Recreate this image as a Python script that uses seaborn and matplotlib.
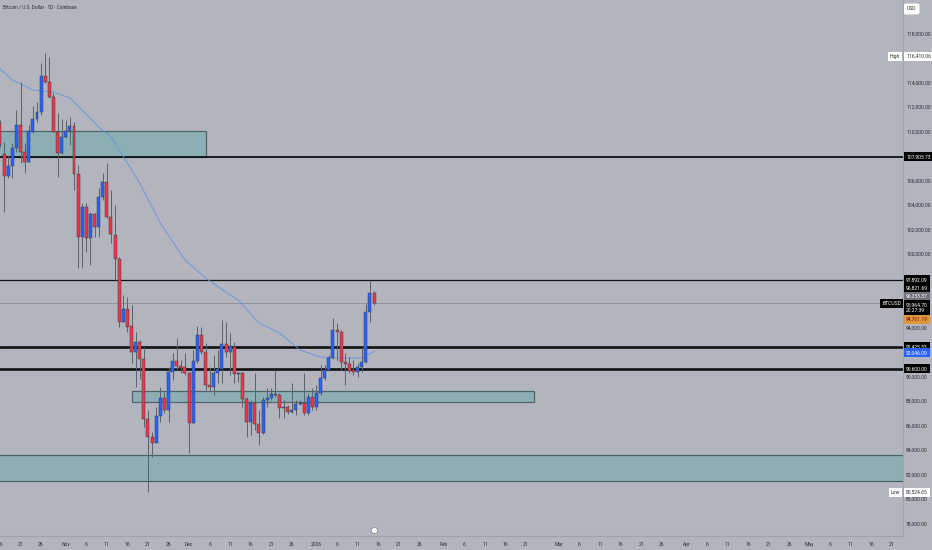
import numpy as np
import pandas as pd
import matplotlib
matplotlib.use("Agg")
import matplotlib.pyplot as plt
import matplotlib.dates as mdates
from matplotlib.patches import Rectangle
import seaborn as sns

# BTC/USD daily candles (Coinbase)
dates = pd.date_range("2025-10-16", "2026-01-15", freq="D")
opens = [110706, 108150, 106379, 107171, 108641, 110518, 108314, 107473, 109971, 111008,
         111604, 114518, 114004, 112828, 109971, 108257, 109538, 110028, 110461, 106518,
         101400, 103849, 101293, 103253, 102191, 104640, 105890, 103008, 101538, 99579,
         94437, 95498, 94110, 92012, 92828, 91392, 86493, 85024, 84583, 86762,
         88208, 87252, 90379, 91252, 90843, 90786, 90297, 86216, 91252, 93376,
         92012, 89293, 89155, 90297, 90575, 92640, 92012, 92420, 90191, 90250,
         88126, 86298, 87799, 86110, 85400, 88069, 88256, 88534, 88477, 87391,
         87522, 87114, 87252, 87742, 87799, 87032, 88339, 87473, 88665, 89889,
         90518, 91473, 93783, 93645, 91195, 91008, 90518, 90379, 90786, 91195,
         95277, 96821.69]
highs = [110900, 109155, 107987, 109049, 111742, 114053, 109049, 110518, 112071, 112420,
         115579, 116410.06, 116069, 113130, 111498, 111008, 110926, 111171, 110787, 107253,
         104150, 104150, 103441, 103334, 105375, 106600, 107416, 105212, 103987, 99742,
         96640, 96501, 95824, 93645, 92967, 92420, 87252, 85482, 87522, 89155,
         88747, 90786, 91881, 93105, 91334, 91881, 90379, 92156, 94110, 94053,
         92697, 90786, 91742, 92156, 94597, 94461, 93513, 92828, 90379, 90379,
         88339, 88069, 90248, 87252, 88339, 89024, 89048, 90518, 88616, 88069,
         87650, 89432, 88069, 88069, 90248, 88665, 89024, 89293, 90926, 90926,
         91742, 94738, 94330, 93783, 91881, 91603, 91334, 91065, 92420, 95900,
         97892.09, 96950]
lows = [108700, 103441, 106192, 106192, 108339, 107392, 106600, 107473, 109865, 110787,
        111334, 113922, 112722, 109947, 106298, 108150, 109457, 108885, 105212, 98820,
        98820, 100175, 99089, 101375, 101375, 104395, 102926, 100885, 97863, 94053,
        94437, 93645, 91090, 89155, 89800, 85889, 80524.65, 83441, 84534, 86298,
        86983, 86298, 89701, 90518, 90248, 90110, 83766, 86167, 91065, 91824,
        88885, 88885, 88477, 89456, 89432, 91603, 90110, 89432, 89563, 87522,
        85073, 85212, 85620, 84396, 85294, 87522, 88069, 88339, 86575, 86600,
        86930, 86983, 86844, 87650, 86844, 86844, 87252, 87252, 88477, 89701,
        90437, 91392, 91334, 90518, 89293, 90270, 90110, 89971, 90379, 91090,
        94461, 95800]
closes = [108885, 106379, 107171, 108641, 110518, 108314, 107522, 110053, 111008, 111604,
          114518, 114004, 112828, 109971, 108257, 109538, 110028, 110461, 106518, 101400,
          103849, 101293, 103253, 102191, 104640, 105890, 103008, 101620, 99579, 94437,
          95498, 94053, 92012, 92828, 91392, 86493, 85024, 84583, 86762, 88208,
          87252, 90379, 91252, 90843, 90656, 90297, 86216, 91252, 93376, 92012,
          89293, 89155, 90297, 90575, 92640, 92012, 92477, 90191, 90250, 88126,
          86298, 87799, 86110, 85400, 88069, 88256, 88534, 88480, 87391, 87522,
          87065, 87252, 87742, 87848, 87032, 88339, 87473, 88665, 89889, 90518,
          91473, 93783, 93645, 91195, 91008, 90437, 90379, 90786, 91195, 95277,
          96821.69, 95964.70]

# moving average line, sampled from the chart
ma_dates = ["2025-10-16", "2025-10-19", "2025-10-24", "2025-10-29", "2025-11-02", "2025-11-05",
            "2025-11-09", "2025-11-12", "2025-11-14", "2025-11-19", "2025-11-24", "2025-11-30",
            "2025-12-05", "2025-12-11", "2025-12-13", "2025-12-18", "2025-12-23", "2025-12-28",
            "2026-01-02", "2026-01-07", "2026-01-12", "2026-01-15"]
ma_values = [115090, 114191, 113375, 113212, 112722, 111742, 110355, 109538, 108477, 105783,
             102517, 99497, 98028, 96640, 96232, 94355, 93538, 92150, 91578, 91497, 91497, 92046]

# drawn zones: start, end, low, high
zone_start = ["2025-10-01", "2025-11-17", "2025-10-01"]
zone_end = ["2025-12-05", "2026-02-23", "2026-06-30"]
zone_low = [107906, 87900, 81457]
zone_high = [110000, 88830, 83578]

# horizontal levels
levels = [107905.73, 97892.09, 92425.53, 90600.00]
level_text = ["107,905.73", "97,892.09", "92,425.53", "90,600.00"]

tick_days = ["2025-10-16", "2025-10-21", "2025-10-26", "2025-11-01", "2025-11-06", "2025-11-11",
             "2025-11-16", "2025-11-21", "2025-11-26", "2025-12-01", "2025-12-06", "2025-12-11",
             "2025-12-16", "2025-12-21", "2025-12-26", "2026-01-01", "2026-01-06", "2026-01-11",
             "2026-01-16", "2026-01-21", "2026-01-26", "2026-02-01", "2026-02-06", "2026-02-11",
             "2026-02-16", "2026-02-21", "2026-03-01", "2026-03-06", "2026-03-11", "2026-03-16",
             "2026-03-21", "2026-03-26", "2026-04-01", "2026-04-06", "2026-04-11", "2026-04-16",
             "2026-04-21", "2026-04-26", "2026-05-01", "2026-05-06", "2026-05-11", "2026-05-16",
             "2026-05-21"]
tick_text = ["16", "21", "26", "Nov", "6", "11", "16", "21", "26", "Dec", "6", "11", "16", "21",
             "26", "2026", "6", "11", "16", "21", "26", "Feb", "6", "11", "16", "21", "Mar", "6",
             "11", "16", "21", "26", "Apr", "6", "11", "16", "21", "26", "May", "6", "11", "16", "21"]
price_ticks = list(range(78000, 120000, 2000))

# Style
sns.set_style("white")
plt.rcParams['font.family'] = ['Roboto', 'DejaVu Sans']
BG = '#b2b5be'
UP, DOWN = '#2962ff', '#f23645'
FS = 3.6

fig = plt.figure(figsize=(9.32, 5.5), dpi=100, facecolor=BG)
ax = fig.add_axes([0, 14 / 550, 903 / 932, 536 / 550], facecolor=BG)

df = pd.DataFrame({'date': dates, 'open': opens, 'high': highs, 'low': lows, 'close': closes})
df['x'] = mdates.date2num(df['date'])
df['up'] = df['close'] >= df['open']
body_lo = df[['open', 'close']].min(axis=1)
body_h = (df['close'] - df['open']).abs().clip(lower=60)

# zones
for s, e, lo, hi in zip(zone_start, zone_end, zone_low, zone_high):
    x0 = mdates.date2num(pd.Timestamp(s))
    x1 = mdates.date2num(pd.Timestamp(e))
    ax.add_patch(Rectangle((x0, lo), x1 - x0, hi - lo, facecolor='#8cafb6',
                           edgecolor='#4d6469', linewidth=0.9, zorder=1))

# level lines
for lv, lw in zip(levels, [1.3, 0.9, 1.9, 1.9]):
    ax.axhline(lv, color='#111111', lw=lw, zorder=2)
ax.axhline(closes[-1], color='#8a8d96', lw=0.6, zorder=2)

# MA
ma = pd.DataFrame({'x': mdates.date2num(pd.to_datetime(ma_dates)), 'y': ma_values})
sns.lineplot(data=ma, x='x', y='y', ax=ax, color='#6a90e0', lw=0.6, zorder=3,
             estimator=None, sort=False)

# candles
ax.vlines(df['x'], df['low'], df['high'], color='#5d606b', lw=0.7, zorder=4)
ax.bar(df['x'], body_h, bottom=body_lo, width=0.72,
       color=np.where(df['up'], UP, DOWN), edgecolor='#3a3d46', linewidth=0.35, zorder=5)

ax.set_xlim(mdates.date2num(pd.Timestamp("2025-10-16")),
            mdates.date2num(pd.Timestamp("2025-11-01")) + 203.7)
ax.set_ylim(76966, 120721)
ax.set_xlabel('')
ax.set_ylabel('')

ax.set_xticks(mdates.date2num(pd.to_datetime(tick_days)))
ax.set_xticklabels(tick_text)
ax.yaxis.tick_right()
ax.set_yticks(price_ticks)
ax.set_yticklabels([f"{p:,.2f}" for p in price_ticks])
ax.tick_params(axis='both', length=0, labelsize=FS, colors='#2a2e39')
ax.tick_params(axis='x', pad=4)
ax.tick_params(axis='y', pad=2.2)
for side in ['top', 'left']:
    ax.spines[side].set_visible(False)
for side in ['right', 'bottom']:
    ax.spines[side].set_color('#a0a3ab')
    ax.spines[side].set_linewidth(0.8)

ytr = ax.get_yaxis_transform()


def price_box(y, text, fc='black', tc='white', dy=0, x=1.0035, ha='left'):
    ax.annotate(text, xy=(x, y), xycoords=ytr, xytext=(0, dy), textcoords='offset points',
                ha=ha, va='center', fontsize=FS, color=tc, zorder=10, annotation_clip=False,
                bbox=dict(boxstyle='square,pad=0.4', fc=fc, ec='none'))


for lv, t in zip(levels, level_text):
    price_box(lv, t)
price_box(96821.69, "96,821.69", dy=3.3)
price_box(96253.37, "96,253.37", fc='#6f727b', dy=2.6)
price_box(closes[-1], "95,964.70\n20:27:39", dy=-3.2)
price_box(closes[-1], "BTCUSD", x=0.998, ha='right')
price_box(94761.19, "94,761.19", fc='#e0963c', tc='#7a1010', dy=-0.8)
price_box(ma_values[-1], "92,046.09", fc=UP, dy=-1)
price_box(max(highs), "116,410.06", fc='white', tc='#2a2e39', dy=-2.5)
price_box(max(highs), "High", fc='white', tc='#2a2e39', dy=-2.5, x=0.997, ha='right')
price_box(min(lows), "80,524.65", fc='white', tc='#2a2e39')
price_box(min(lows), "Low", fc='white', tc='#2a2e39', x=0.997, ha='right')

fig.text(907 / 932, 1 - 9 / 550, "USD", fontsize=FS, color='#2a2e39', ha='left', va='center',
         bbox=dict(boxstyle='round,pad=0.6,rounding_size=0.4', fc='white', ec='none'))
fig.text(3 / 932, 1 - 7 / 550, "Bitcoin / U.S. Dollar · 1D · Coinbase", fontsize=3.4,
         color='#2a2e39', ha='left', va='center')

# event marker near the time axis
ax.plot([mdates.date2num(pd.Timestamp("2026-01-15"))], [0.012], transform=ax.get_xaxis_transform(),
        marker='o', ms=4.5, mfc='white', mec='#8a8d96', mew=0.6, clip_on=False, zorder=6)

fig.savefig("out.png", dpi=100, facecolor=BG)
